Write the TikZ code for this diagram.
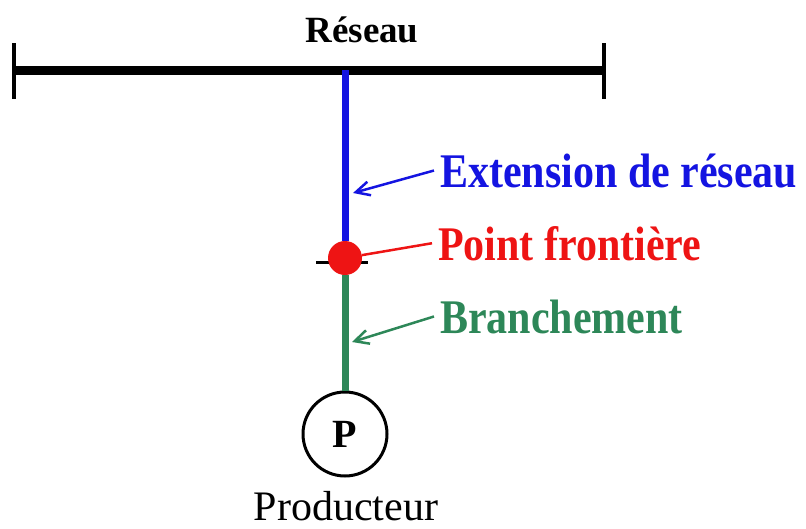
\documentclass[tikz,border=0pt]{standalone}
\usepackage{fontspec}
\setmainfont{Liberation Serif}
\usetikzlibrary{arrows.meta}
\definecolor{bleu}{RGB}{20,20,225}
\definecolor{rouge}{RGB}{238,20,20}
\definecolor{vert}{RGB}{45,135,88}
\newcommand{\haut}[1]{\scalebox{1}[1.15]{#1}}

\begin{document}
\begin{tikzpicture}[x=1pt,y=-1pt,
    etiquette/.style={anchor=base west,inner xsep=6pt,inner ysep=0pt,font=\bfseries\fontsize{42}{48}\selectfont},
    fleche/.style={line width=2.5pt,-{Straight Barb[length=14pt,width=14pt,line width=2.5pt]}}]
        \useasboundingbox (0,0) rectangle (806,528);
        %titre
        \node[font=\bfseries\fontsize{37}{42}\selectfont] (reseau) at (362,30) {Réseau};
        %barre du réseau
        \coordinate (busG) at (14,70);
        \coordinate (busD) at (604,70);
        \coordinate (piquage) at (345,70);
        \draw[line width=9pt] (busG) -- (busD);
        \draw[line width=4pt] (14,43) -- (14,99);
        \draw[line width=4pt] (604,43) -- (604,99);
        %point frontière
        \draw[line width=3pt] (316,262) -- (368,262);
        \node[circle,fill=rouge,minimum size=34pt,inner sep=0pt] (frontiere) at (345,258) {};
        %producteur
        \node[circle,draw,line width=3pt,minimum size=84pt,inner sep=0pt,font=\bfseries\fontsize{40}{44}\selectfont] (P) at (345,434) {P};
        \node[font=\fontsize{42}{48}\selectfont] (producteur) at (346,506) {Producteur};
        %extension et branchement
        \draw[bleu,line width=7pt] (piquage) -- (frontiere);
        \draw[vert,line width=7pt] (frontiere) -- (P);
        %étiquettes
        \node[etiquette,text=bleu] (ext) at (434,187) {\haut{Extension de réseau}};
        \node[etiquette,text=rouge] (ptf) at (432,260) {\haut{Point frontière}};
        \node[etiquette,text=vert] (bra) at (434,333) {\haut{Branchement}};
        \coordinate (extfin) at (353,193);
        \coordinate (brafin) at (352,342);
        \draw[fleche,bleu] (ext.west) -- (extfin);
        \draw[rouge,line width=2.5pt] (ptf.west) -- (frontiere);
        \draw[fleche,vert] (bra.west) -- (brafin);
    \end{tikzpicture}
\end{document}
